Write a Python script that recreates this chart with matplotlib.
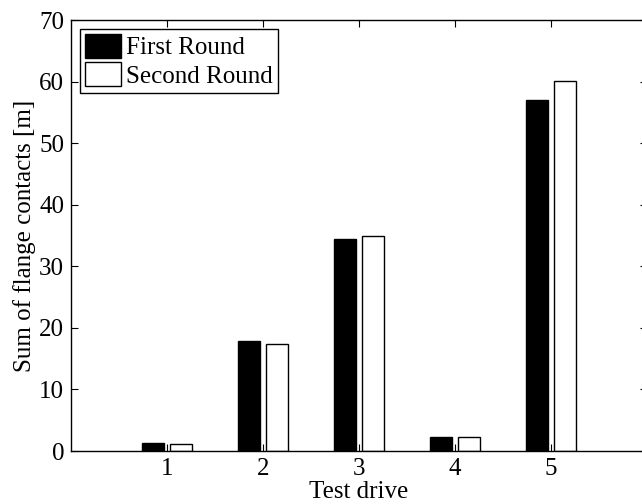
import numpy as np
import matplotlib.pyplot as plt

# test drives and summed flange contact lengths
drives = [1, 2, 3, 4, 5]
first_round = [1.25, 17.9, 34.4, 2.3, 57.0]
second_round = [1.2, 17.4, 35.0, 2.3, 60.1]

plt.rcParams['font.family'] = ['Liberation Serif', 'DejaVu Serif']
plt.rcParams['font.size'] = 18

fig = plt.figure(figsize=(6.42, 5.04), dpi=100)
# axes run slightly past the right edge, like the cropped original
ax = fig.add_axes([71/642, 53/504, 576/642, 431/504])

x = np.array(drives)
w = 0.229
ax.bar(x - 0.143, first_round, w, color='black', edgecolor='black', linewidth=1, label='First Round')
ax.bar(x + 0.143, second_round, w, color='white', edgecolor='black', linewidth=1, label='Second Round')

ax.set_xlim(0, 6)
ax.set_ylim(0, 70)
ax.set_xticks(drives)
ax.set_yticks(np.arange(0, 71, 10))
ax.tick_params(direction='in', length=5, width=0.8, top=True, right=True, pad=5)
for s in ax.spines.values():
    s.set_linewidth(1)

ax.set_xlabel('Test drive', labelpad=0.5)
ax.set_ylabel('Sum of flange contacts [m]', labelpad=2)

leg = ax.legend(loc='upper left', fancybox=False, edgecolor='black', framealpha=1,
                borderpad=0.2, handlelength=1.45, handleheight=1.1, handletextpad=0.2,
                labelspacing=0.12, borderaxespad=0.35)
leg.get_frame().set_linewidth(1)

fig.savefig('out.png', dpi=100)
